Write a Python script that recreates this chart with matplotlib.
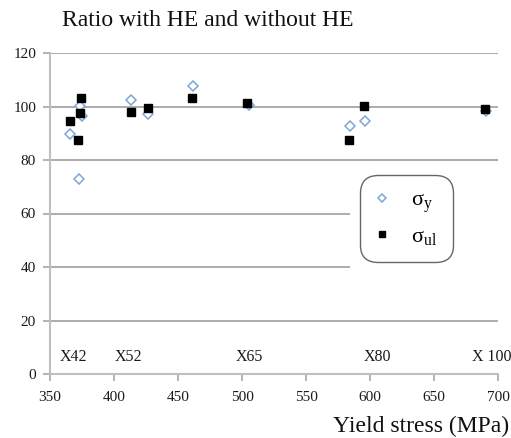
import numpy as np
import matplotlib.pyplot as plt
from matplotlib.patches import Rectangle

plt.rcParams['font.family'] = ['Liberation Serif', 'DejaVu Serif']
plt.rcParams['mathtext.fontset'] = 'stix'

# ratio (%) of property with / without hydrogen, vs yield stress
ys_x = [365.7, 373.5, 374.8, 372.9, 413.6, 426.8, 462.0, 505.5, 584.4, 595.9, 690.4]
ys_ratio = [89.8, 100.3, 96.5, 72.8, 102.4, 97.1, 107.7, 100.4, 92.7, 94.7, 98.3]

ul_x = [365.4, 374.0, 373.4, 372.1, 413.4, 426.4, 461.2, 503.6, 583.8, 595.1, 689.8]
ul_ratio = [94.7, 103.1, 97.7, 87.4, 98.1, 99.4, 103.2, 101.2, 87.4, 100.2, 99.2]

grades = ['X42', 'X52', 'X65', 'X80', 'X 100']
grade_x = [368, 411, 506, 606, 695]

fig = plt.figure(figsize=(5.11, 4.38), dpi=100)
ax = fig.add_axes([50/511, 64/438, 448/511, 321/438])

grid_c = '#a6a6a6'
ax.set_xlim(350, 700)
ax.set_ylim(0, 120)
ax.set_xticks(np.arange(350, 701, 50))
ax.set_yticks(np.arange(0, 121, 20))
ax.yaxis.grid(True, color=grid_c, linewidth=1.3)
ax.set_axisbelow(True)
for s in ['top', 'right']:
    ax.spines[s].set_visible(False)
for s in ['left', 'bottom']:
    ax.spines[s].set_color('#bfbfbf')
    ax.spines[s].set_linewidth(1.5)
ax.tick_params(axis='both', colors=grid_c, labelcolor='#1a1a1a',
               labelsize=11, length=5, width=1.2)
ax.tick_params(axis='x', pad=7)
ax.tick_params(axis='y', pad=5)

# blank area behind the legend
ax.add_patch(Rectangle((0.67, 0.235), 0.36, 0.395, transform=ax.transAxes,
                       facecolor='white', edgecolor='none', zorder=1,
                       clip_on=False))

ax.plot(ys_x, ys_ratio, linestyle='none', marker='D', markersize=5,
        markerfacecolor='white', markeredgecolor='#7fa6d9',
        markeredgewidth=1.1, zorder=3, label='σ$_{\\mathregular{y}}$')
ax.plot(ul_x, ul_ratio, linestyle='none', marker='s', markersize=6,
        color='black', zorder=4, label='σ$_{\\mathregular{ul}}$')

for g, gx in zip(grades, grade_x):
    ax.text(gx, 6.4, g, ha='center', va='center', fontsize=11.5,
            color='#1a1a1a', clip_on=False)

leg = ax.legend(loc='upper left', bbox_to_anchor=(0.692, 0.62),
                fontsize=16, frameon=True, handlelength=0.6,
                handletextpad=1.0, labelspacing=0.5, borderpad=0.4,
                borderaxespad=0.3, markerscale=0.8)
frame = leg.get_frame()
frame.set_edgecolor('#404040')
frame.set_linewidth(1.0)
frame.set_boxstyle('round,pad=0.3,rounding_size=0.8')
leg.set_zorder(5)

fig.text(62/511, 1 - 26/438, 'Ratio with HE and without HE',
         fontsize=17, va='baseline', ha='left', color='#111111')
fig.text(509/511, 1 - 432/438, 'Yield stress (MPa)',
         fontsize=17, va='baseline', ha='right', color='#111111')

fig.savefig('out.png', dpi=100)
